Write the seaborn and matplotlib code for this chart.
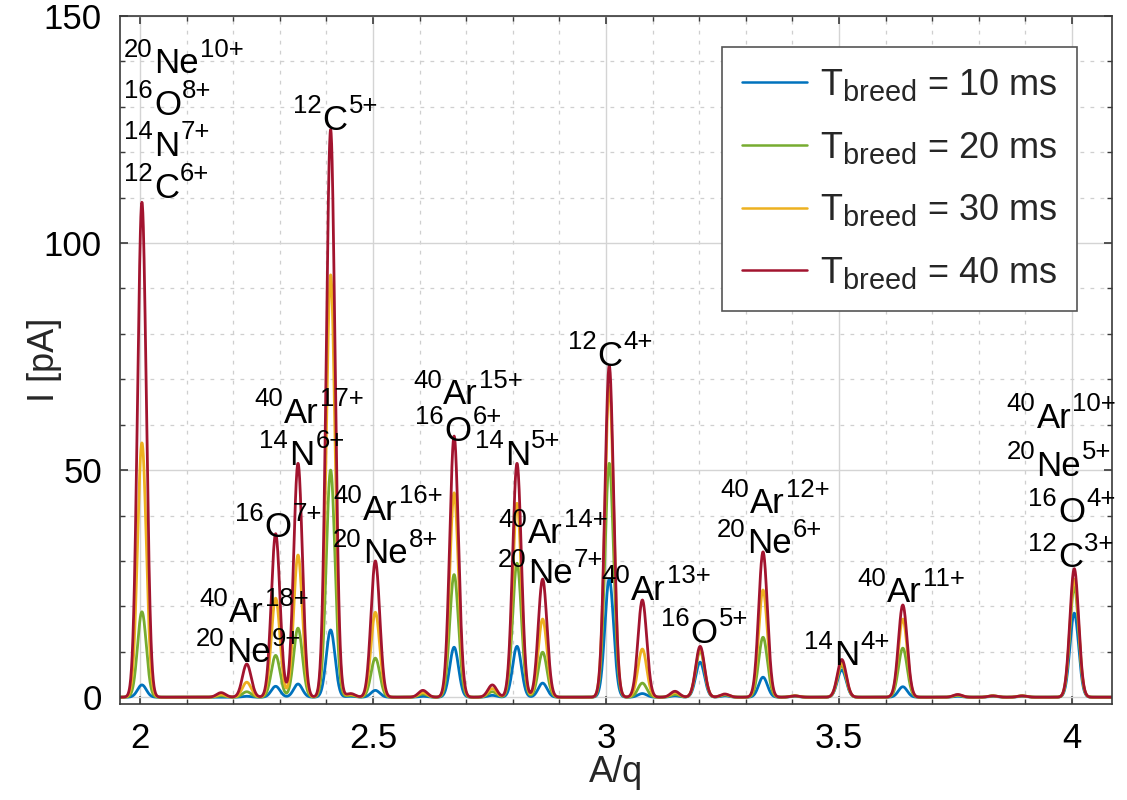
import numpy as np
import pandas as pd
import matplotlib
matplotlib.use("Agg")
import matplotlib.pyplot as plt
import matplotlib._mathtext as _mathtext
from matplotlib.ticker import MultipleLocator, FormatStrFormatter
from matplotlib.transforms import offset_copy
import seaborn as sns

# ---- spectrum: peak centres (A/q) and peak heights (pA) for each breeding time ----
peak_centers = [2.004, 2.174, 2.229, 2.291, 2.339, 2.409, 2.452, 2.505, 2.607,
                2.674, 2.756, 2.809, 2.864, 3.007, 3.078, 3.148, 3.202, 3.255,
                3.337, 3.405, 3.506, 3.637, 3.755, 3.830, 3.893, 4.005]
i_10ms = [2.7, 0.0, 0.2, 2.4, 2.9, 14.8, 0.2, 1.5, 0.2,
          11.0, 0.4, 11.2, 3.1, 26.0, 0.8, 0.3, 7.7, 0.3,
          4.4, 0.2, 6.0, 2.3, 0.2, 0.2, 0.2, 18.5]
i_20ms = [18.8, 0.3, 1.2, 9.2, 15.2, 50.0, 0.4, 8.6, 0.7,
          27.0, 1.2, 29.5, 9.9, 51.5, 3.1, 0.6, 10.2, 0.5,
          13.2, 0.3, 7.0, 10.8, 0.4, 0.3, 0.3, 24.3]
i_30ms = [56.0, 0.6, 3.3, 21.8, 31.3, 93.0, 0.6, 18.7, 1.0,
          45.0, 1.9, 42.7, 17.2, 68.5, 10.6, 1.0, 10.6, 0.6,
          23.6, 0.3, 7.5, 17.2, 0.5, 0.3, 0.3, 26.0]
i_40ms = [109.0, 1.0, 7.3, 36.0, 51.5, 125.0, 0.8, 30.0, 1.5,
          57.5, 2.7, 51.5, 26.0, 73.0, 21.4, 1.3, 11.2, 0.7,
          32.0, 0.3, 8.3, 20.3, 0.6, 0.3, 0.3, 28.3]
peak_sigma = 0.0094

series_labels = [r"$\mathregular{T_{breed}}$ = 10 ms",
                 r"$\mathregular{T_{breed}}$ = 20 ms",
                 r"$\mathregular{T_{breed}}$ = 30 ms",
                 r"$\mathregular{T_{breed}}$ = 40 ms"]
series_colors = ["#0072BD", "#77AC30", "#EDB120", "#A2142F"]

# ion labels: (A/q, I, mass number, element, charge)
ion_labels = [
    (1.966, 137.4, "20", "Ne", "10+"),
    (1.966, 128.2, "16", "O", "8+"),
    (1.966, 119.2, "14", "N", "7+"),
    (1.966, 109.9, "12", "C", "6+"),
    (2.328, 125.0, "12", "C", "5+"),
    (2.245, 60.4, "40", "Ar", "17+"),
    (2.256, 51.1, "14", "N", "6+"),
    (2.204, 35.2, "16", "O", "7+"),
    (2.127, 16.5, "40", "Ar", "18+"),
    (2.120, 7.7, "20", "Ne", "9+"),
    (2.414, 39.0, "40", "Ar", "16+"),
    (2.414, 29.5, "20", "Ne", "8+"),
    (2.586, 64.5, "40", "Ar", "15+"),
    (2.590, 56.4, "16", "O", "6+"),
    (2.719, 51.1, "14", "N", "5+"),
    (2.768, 33.9, "40", "Ar", "14+"),
    (2.768, 25.1, "20", "Ne", "7+"),
    (2.918, 72.9, "12", "C", "4+"),
    (2.989, 21.4, "40", "Ar", "13+"),
    (3.118, 11.9, "16", "O", "5+"),
    (3.245, 40.5, "40", "Ar", "12+"),
    (3.238, 31.7, "20", "Ne", "6+"),
    (3.425, 7.0, "14", "N", "4+"),
    (3.539, 20.9, "40", "Ar", "11+"),
    (3.860, 59.3, "40", "Ar", "10+"),
    (3.860, 48.7, "20", "Ne", "5+"),
    (3.906, 38.5, "16", "O", "4+"),
    (3.906, 28.6, "12", "C", "3+"),
]

x_range = (1.957, 4.086)
y_range = (-1.5, 150)

# ---- build the spectra as sums of Gaussian peaks ----
aq = np.linspace(x_range[0], x_range[1], 4000)
centers = np.asarray(peak_centers)
profiles = np.exp(-0.5 * ((aq[:, None] - centers[None, :]) / peak_sigma) ** 2)

frames = []
for label, heights in zip(series_labels, [i_10ms, i_20ms, i_30ms, i_40ms]):
    frames.append(pd.DataFrame({"A/q": aq,
                                "I": profiles @ np.asarray(heights),
                                "series": label}))
df = pd.concat(frames, ignore_index=True)

sns.set_style("ticks")
plt.rcParams["font.family"] = ["Liberation Sans", "DejaVu Sans"]
plt.rcParams["mathtext.fontset"] = "custom"
plt.rcParams["mathtext.rm"] = "Liberation Sans"
plt.rcParams["mathtext.it"] = "Liberation Sans:italic"
plt.rcParams["mathtext.bf"] = "Liberation Sans:bold"
# larger subscripts in the legend labels
_mathtext.SHRINK_FACTOR = 0.8

fig = plt.figure(figsize=(11.27, 8.0), dpi=100)
ax = fig.add_axes([0.1065, 0.12, 0.8802, 0.86])

sns.lineplot(data=df, x="A/q", y="I", hue="series", hue_order=series_labels,
             palette=series_colors, linewidth=2.0, ax=ax, legend=True,
             estimator=None, sort=False)

ax.set_xlim(*x_range)
ax.set_ylim(*y_range)
ax.xaxis.set_major_locator(MultipleLocator(0.5))
ax.xaxis.set_minor_locator(MultipleLocator(0.1))
ax.yaxis.set_major_locator(MultipleLocator(50))
ax.yaxis.set_minor_locator(MultipleLocator(10))
ax.xaxis.set_major_formatter(FormatStrFormatter("%g"))
ax.yaxis.set_major_formatter(FormatStrFormatter("%g"))

ax.grid(which="major", color="#d4d4d4", linewidth=1.0, linestyle="-")
ax.grid(which="minor", color="#cfcfcf", linewidth=0.9, linestyle=(0, (3, 5)))
ax.set_axisbelow(True)

for side in ["left", "right", "top", "bottom"]:
    ax.spines[side].set_visible(True)
    ax.spines[side].set_color("#3a3a3a")
    ax.spines[side].set_linewidth(1.2)
ax.tick_params(which="both", direction="in", top=True, right=True,
               color="#3a3a3a", labelsize=25, labelcolor="black")
ax.tick_params(which="major", length=6, width=1.2, pad=13)
ax.tick_params(which="minor", length=3.5, width=1.0)

ax.set_xlabel("A/q", fontsize=26, labelpad=0)
ax.set_ylabel("I [pA]", fontsize=26)
ax.yaxis.set_label_coords(-0.058, 0.5)

handles, labels = ax.get_legend_handles_labels()
leg = ax.legend(handles, labels, loc="upper right", bbox_to_anchor=(0.965, 0.955),
                borderaxespad=0, fontsize=26, frameon=True, fancybox=False,
                framealpha=1, edgecolor="#555555", handlelength=1.8,
                handletextpad=0.35, labelspacing=0.74, borderpad=0.55)
leg.get_frame().set_linewidth(1.2)
for line in leg.get_lines():
    line.set_linewidth(1.8)

# isotope labels: mass number and charge state as raised small text around the element
main_size, sup_size, sup_raise, gap = 25, 18.5, 12.0, 0.8
renderer = fig.canvas.get_renderer()
for x, y, mass, elem, charge in ion_labels:
    dx = 0.0
    for txt, size, dy in ((mass, sup_size, sup_raise),
                          (elem, main_size, 0.0),
                          (charge, sup_size, sup_raise)):
        t = ax.text(x, y, txt, fontsize=size, ha="left", va="baseline",
                    color="black",
                    transform=offset_copy(ax.transData, fig=fig, x=dx, y=dy,
                                          units="points"))
        width_px = t.get_window_extent(renderer).width
        dx += width_px * 72.0 / fig.dpi + gap

fig.savefig("out.png", dpi=100)
